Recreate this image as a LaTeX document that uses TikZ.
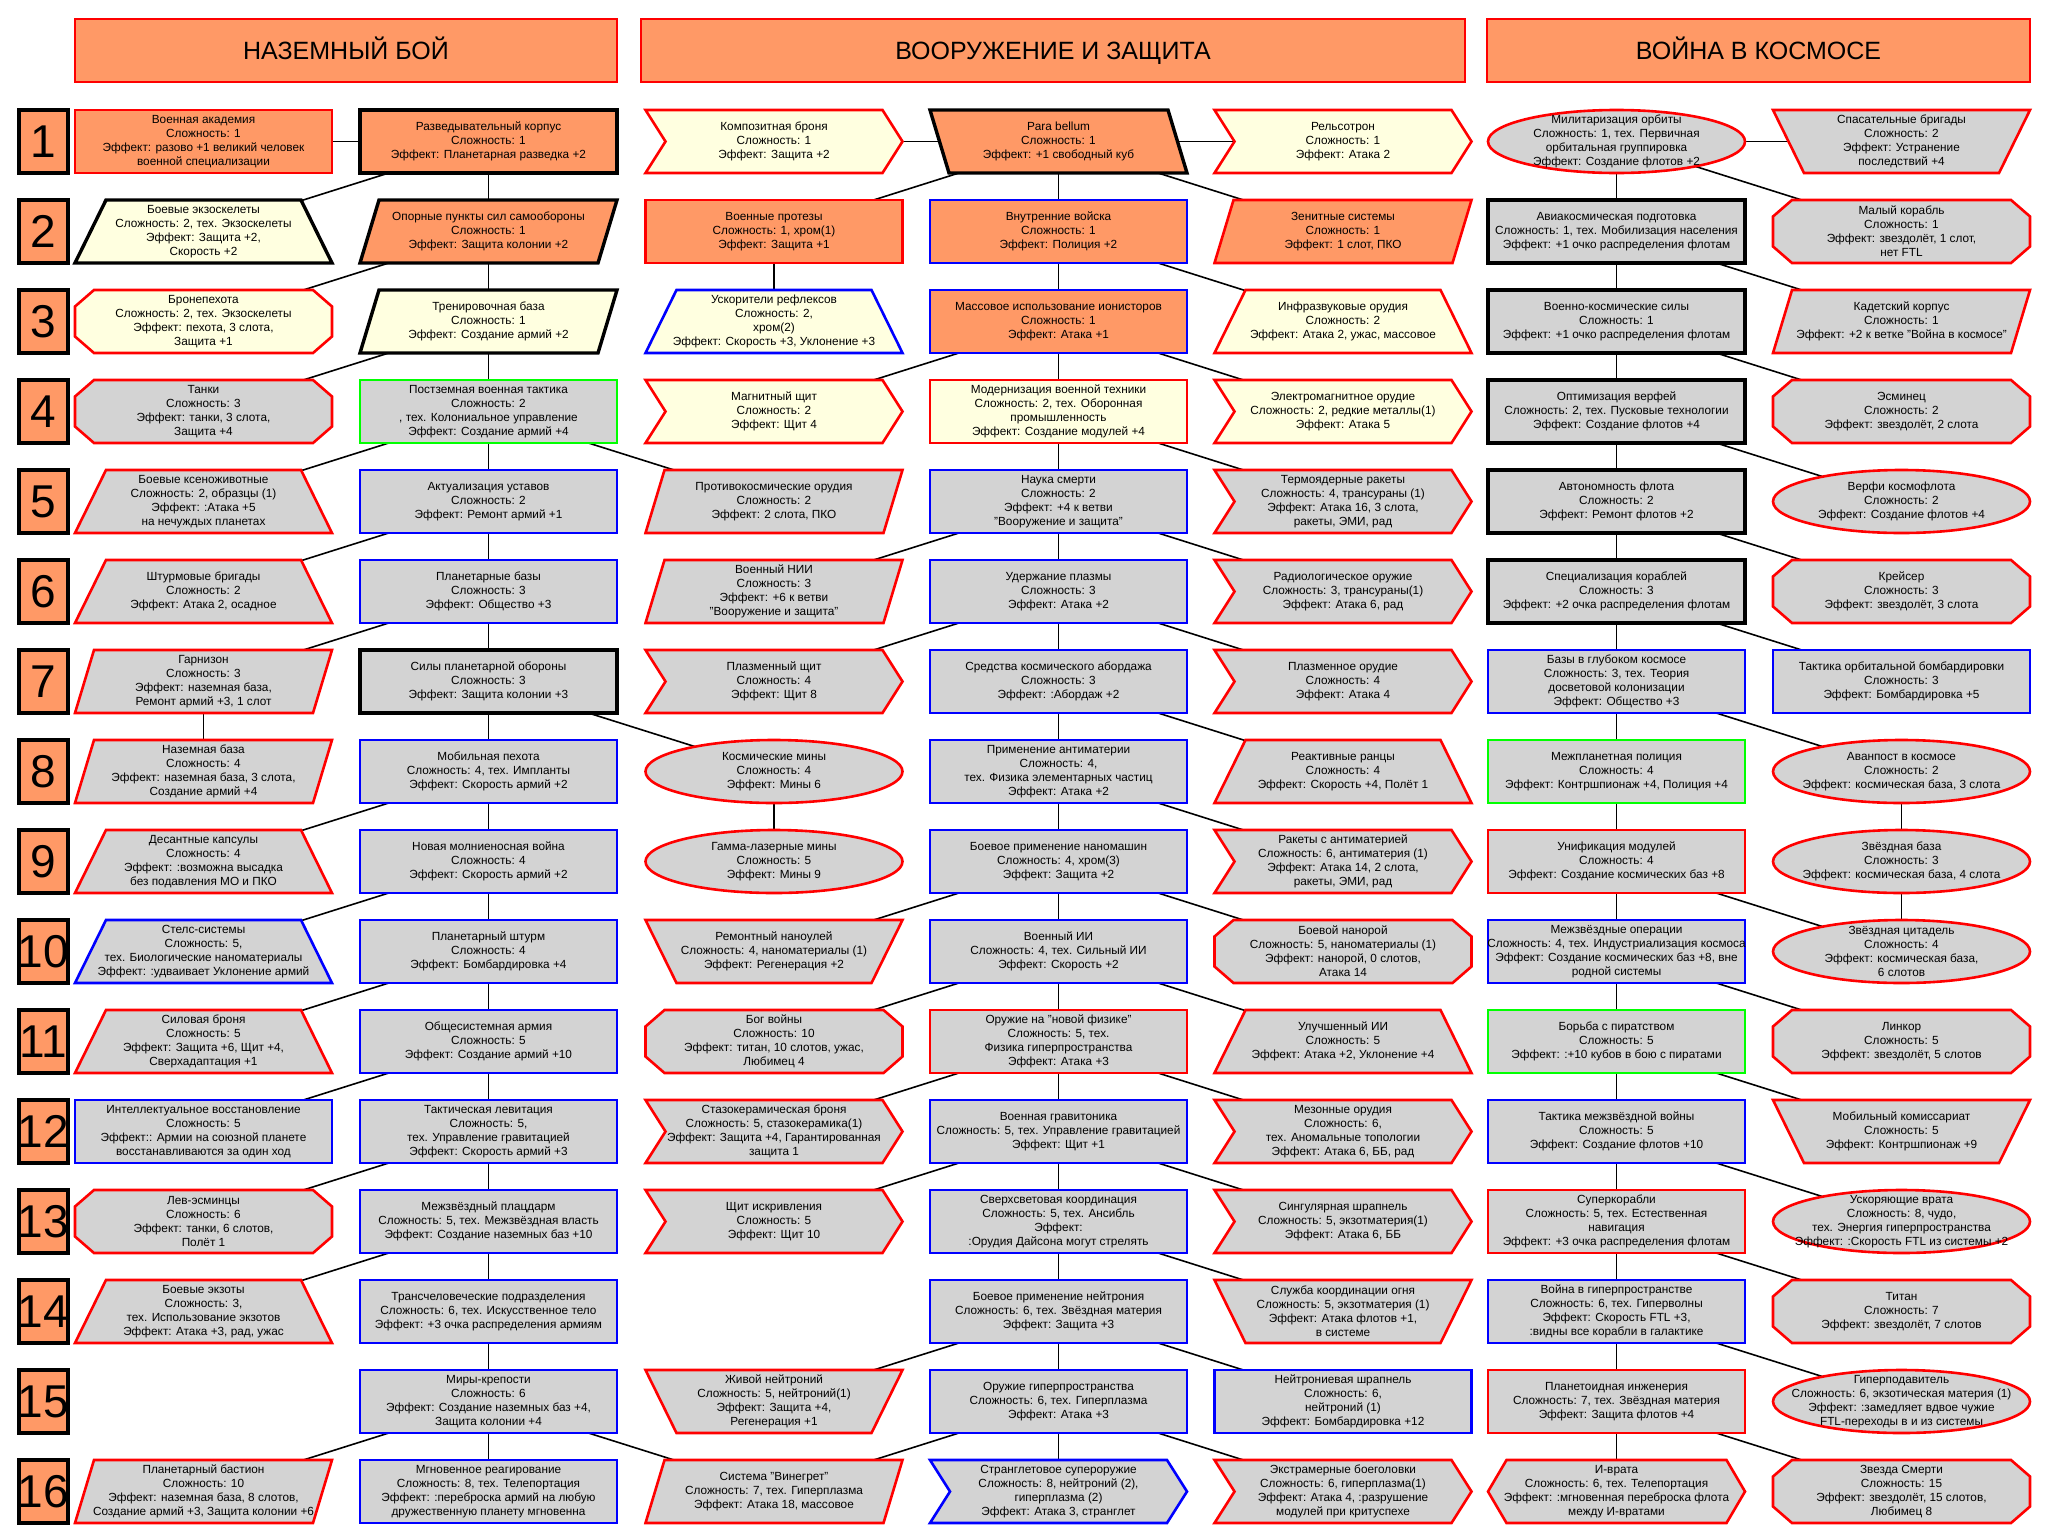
\documentclass[tikz,border=0pt]{standalone}
\usepackage{fontspec}
\setmainfont{Liberation Sans}
\usetikzlibrary{backgrounds}

\definecolor{orng}{HTML}{FF9966}
\definecolor{lyel}{HTML}{FFFFE0}
\definecolor{lgry}{HTML}{D3D3D3}
\definecolor{bred}{HTML}{FF0000}
\definecolor{bblu}{HTML}{0000FF}
\definecolor{bgrn}{HTML}{00FF00}

\tikzset{
  txt/.style={minimum width=257, minimum height=63, inner sep=0, align=center,
    font=\fontsize{11.8}{14}\selectfont},
  lnR/.style={draw=bred, line width=2.6},
  lnB/.style={draw=bblu, line width=2.6},
  lnG/.style={draw=bgrn, line width=2.6},
  lnK/.style={draw=black, line width=3.4},
  fO/.style={fill=orng}, fY/.style={fill=lyel}, fG/.style={fill=lgry},
  head/.style={draw=bred, line width=2.6, fill=orng, minimum height=63,
    text height=18, text depth=0, font=\fontsize{25}{30}\selectfont},
  rownum/.style={draw=black, line width=3.4, fill=orng, minimum width=49,
    minimum height=63, inner sep=0},
  numfont/.style={font=\fontsize{46}{46}\selectfont, inner sep=0},
  link/.style={line width=1.6}
}

% outlines, around (0,0)
\newcommand\shrect{(-128.5,-31.5) rectangle (128.5,31.5)}
\newcommand\shpara{(-109.5,-31.5) -- (128.5,-31.5) -- (109.5,31.5) -- (-128.5,31.5) -- cycle}
\newcommand\shparb{(-128.5,-31.5) -- (109.5,-31.5) -- (128.5,31.5) -- (-109.5,31.5) -- cycle}
\newcommand\shtrap{(-97.5,-31.5) -- (97.5,-31.5) -- (128.5,31.5) -- (-128.5,31.5) -- cycle}
\newcommand\shtrapi{(-128.5,-31.5) -- (128.5,-31.5) -- (97.5,31.5) -- (-97.5,31.5) -- cycle}
\newcommand\shchev{(-128.5,-31.5) -- (108.5,-31.5) -- (128.5,0) -- (108.5,31.5) -- (-128.5,31.5) -- (-108.5,0) -- cycle}
\newcommand\shcham{(-109.5,-31.5) -- (109.5,-31.5) -- (128.5,-15) -- (128.5,15) -- (109.5,31.5)
  -- (-109.5,31.5) -- (-128.5,15) -- (-128.5,-15) -- cycle}
\newcommand\shhexa{(-110,-31.5) -- (110,-31.5) -- (128.5,0) -- (110,31.5) -- (-110,31.5) -- (-128.5,0) -- cycle}
\newcommand\shellip{(0,0) ellipse [x radius=128.5, y radius=31.5]}

% name, column, row, outline, look, text
\newcommand\tech[6]{%
  \filldraw[#5, line join=miter, shift={(#2,51.5+90*#3)}] #4;
  \node[txt] (#1) at (#2,51.5+90*#3) {#6};}

\def\xA{203.5} \def\xB{488.5}
\def\xL{774} \def\xM{1058.5} \def\xR{1343}
\def\xS{1616.5} \def\xT{1901.5}

\begin{document}
\begin{tikzpicture}[x=1pt, y=-1pt]
\useasboundingbox (0,0) rectangle (2058,1537);

\node[head, minimum width=542] (hg) at (346,50.5) {НАЗЕМНЫЙ БОЙ};
\node[head, minimum width=824] (hw) at (1053,50.5) {ВООРУЖЕНИЕ И ЗАЩИТА};
\node[head, minimum width=543] (hs) at (1758.5,50.5) {ВОЙНА В КОСМОСЕ};

\foreach \r in {1,...,16}
  \node[rownum, label={[numfont]center:\r}] (r\r) at (43.5,51.5+90*\r) {};

% ground
\tech{ga1}{\xA}{1}{\shrect}{lnR,fO}{Военная академия\\Сложность: 1\\Эффект: разово +1 великий человек\\военной специализации}
\tech{gb1}{\xB}{1}{\shrect}{lnK,fO}{Разведывательный корпус\\Сложность: 1\\Эффект: Планетарная разведка +2}
\tech{ga2}{\xA}{2}{\shtrap}{lnK,fY}{Боевые экзоскелеты\\Сложность: 2, тех. Экзоскелеты\\Эффект: Защита +2,\\Скорость +2}
\tech{gb2}{\xB}{2}{\shpara}{lnK,fO}{Опорные пункты сил самообороны\\Сложность: 1\\Эффект: Защита колонии +2}
\tech{ga3}{\xA}{3}{\shcham}{lnR,fY}{Бронепехота\\Сложность: 2, тех. Экзоскелеты\\Эффект: пехота, 3 слота,\\Защита +1}
\tech{gb3}{\xB}{3}{\shpara}{lnK,fY}{Тренировочная база\\Сложность: 1\\Эффект: Создание армий +2}
\tech{ga4}{\xA}{4}{\shcham}{lnR,fG}{Танки\\Сложность: 3\\Эффект: танки, 3 слота,\\Защита +4}
\tech{gb4}{\xB}{4}{\shrect}{lnG,fG}{Постземная военная тактика\\Сложность: 2\\, тех. Колониальное управление\\Эффект: Создание армий +4}
\tech{ga5}{\xA}{5}{\shtrap}{lnR,fG}{Боевые ксеноживотные\\Сложность: 2, образцы (1)\\Эффект: :Атака +5\\на нечуждых планетах}
\tech{gb5}{\xB}{5}{\shrect}{lnB,fG}{Актуализация уставов\\Сложность: 2\\Эффект: Ремонт армий +1}
\tech{ga6}{\xA}{6}{\shtrap}{lnR,fG}{Штурмовые бригады\\Сложность: 2\\Эффект: Атака 2, осадное}
\tech{gb6}{\xB}{6}{\shrect}{lnB,fG}{Планетарные базы\\Сложность: 3\\Эффект: Общество +3}
\tech{ga7}{\xA}{7}{\shpara}{lnR,fG}{Гарнизон\\Сложность: 3\\Эффект: наземная база,\\Ремонт армий +3, 1 слот}
\tech{gb7}{\xB}{7}{\shrect}{lnK,fG}{Силы планетарной обороны\\Сложность: 3\\Эффект: Защита колонии +3}
\tech{ga8}{\xA}{8}{\shpara}{lnR,fG}{Наземная база\\Сложность: 4\\Эффект: наземная база, 3 слота,\\Создание армий +4}
\tech{gb8}{\xB}{8}{\shrect}{lnB,fG}{Мобильная пехота\\Сложность: 4, тех. Импланты\\Эффект: Скорость армий +2}
\tech{ga9}{\xA}{9}{\shtrap}{lnR,fG}{Десантные капсулы\\Сложность: 4\\Эффект: :возможна высадка\\без подавления МО и ПКО}
\tech{gb9}{\xB}{9}{\shrect}{lnB,fG}{Новая молниеносная война\\Сложность: 4\\Эффект: Скорость армий +2}
\tech{ga10}{\xA}{10}{\shtrap}{lnB,fG}{Стелс-системы\\Сложность: 5,\\тех. Биологические наноматериалы\\Эффект: :удваивает Уклонение армий}
\tech{gb10}{\xB}{10}{\shrect}{lnB,fG}{Планетарный штурм\\Сложность: 4\\Эффект: Бомбардировка +4}
\tech{ga11}{\xA}{11}{\shtrap}{lnR,fG}{Силовая броня\\Сложность: 5\\Эффект: Защита +6, Щит +4,\\Сверхадаптация +1}
\tech{gb11}{\xB}{11}{\shrect}{lnB,fG}{Общесистемная армия\\Сложность: 5\\Эффект: Создание армий +10}
\tech{ga12}{\xA}{12}{\shrect}{lnB,fG}{Интеллектуальное восстановление\\Сложность: 5\\Эффект:: Армии на союзной планете\\восстанавливаются за один ход}
\tech{gb12}{\xB}{12}{\shrect}{lnB,fG}{Тактическая левитация\\Сложность: 5,\\тех. Управление гравитацией\\Эффект: Скорость армий +3}
\tech{ga13}{\xA}{13}{\shcham}{lnR,fG}{Лев-эсминцы\\Сложность: 6\\Эффект: танки, 6 слотов,\\Полёт 1}
\tech{gb13}{\xB}{13}{\shrect}{lnB,fG}{Межзвёздный плацдарм\\Сложность: 5, тех. Межзвёздная власть\\Эффект: Создание наземных баз +10}
\tech{ga14}{\xA}{14}{\shtrap}{lnR,fG}{Боевые экзоты\\Сложность: 3,\\тех. Использование экзотов\\Эффект: Атака +3, рад, ужас}
\tech{gb14}{\xB}{14}{\shrect}{lnB,fG}{Трансчеловеческие подразделения\\Сложность: 6, тех. Искусственное тело\\Эффект: +3 очка распределения армиям}
\tech{gb15}{\xB}{15}{\shrect}{lnB,fG}{Миры-крепости\\Сложность: 6\\Эффект: Создание наземных баз +4,\\Защита колонии +4}
\tech{ga16}{\xA}{16}{\shpara}{lnR,fG}{Планетарный бастион\\Сложность: 10\\Эффект: наземная база, 8 слотов,\\Создание армий +3, Защита колонии +6}
\tech{gb16}{\xB}{16}{\shrect}{lnB,fG}{Мгновенное реагирование\\Сложность: 8, тех. Телепортация\\Эффект: :переброска армий на любую\\дружественную планету мгновенна}

% weapons
\tech{wl1}{\xL}{1}{\shchev}{lnR,fY}{Композитная броня\\Сложность: 1\\Эффект: Защита +2}
\tech{wm1}{\xM}{1}{\shparb}{lnK,fO}{Para bellum\\Сложность: 1\\Эффект: +1 свободный куб}
\tech{wr1}{\xR}{1}{\shchev}{lnR,fY}{Рельсотрон\\Сложность: 1\\Эффект: Атака 2}
\tech{wl2}{\xL}{2}{\shrect}{lnR,fO}{Военные протезы\\Сложность: 1, хром(1)\\Эффект: Защита +1}
\tech{wm2}{\xM}{2}{\shrect}{lnB,fO}{Внутренние войска\\Сложность: 1\\Эффект: Полиция +2}
\tech{wr2}{\xR}{2}{\shpara}{lnR,fO}{Зенитные системы\\Сложность: 1\\Эффект: 1 слот, ПКО}
\tech{wl3}{\xL}{3}{\shtrap}{lnB,fY}{Ускорители рефлексов\\Сложность: 2,\\хром(2)\\Эффект: Скорость +3, Уклонение +3}
\tech{wm3}{\xM}{3}{\shrect}{lnB,fO}{Массовое использование ионисторов\\Сложность: 1\\Эффект: Атака +1}
\tech{wr3}{\xR}{3}{\shtrap}{lnR,fY}{Инфразвуковые орудия\\Сложность: 2\\Эффект: Атака 2, ужас, массовое}
\tech{wl4}{\xL}{4}{\shchev}{lnR,fY}{Магнитный щит\\Сложность: 2\\Эффект: Щит 4}
\tech{wm4}{\xM}{4}{\shrect}{lnR,fY}{Модернизация военной техники\\Сложность: 2, тех. Оборонная\\промышленность\\Эффект: Создание модулей +4}
\tech{wr4}{\xR}{4}{\shchev}{lnR,fY}{Электромагнитное орудие\\Сложность: 2, редкие металлы(1)\\Эффект: Атака 5}
\tech{wl5}{\xL}{5}{\shpara}{lnR,fG}{Противокосмические орудия\\Сложность: 2\\Эффект: 2 слота, ПКО}
\tech{wm5}{\xM}{5}{\shrect}{lnB,fG}{Наука смерти\\Сложность: 2\\Эффект: +4 к ветви\\"Вооружение и защита"}
\tech{wr5}{\xR}{5}{\shchev}{lnR,fG}{Термоядерные ракеты\\Сложность: 4, трансураны (1)\\Эффект: Атака 16, 3 слота,\\ракеты, ЭМИ, рад}
\tech{wl6}{\xL}{6}{\shpara}{lnR,fG}{Военный НИИ\\Сложность: 3\\Эффект: +6 к ветви\\"Вооружение и защита"}
\tech{wm6}{\xM}{6}{\shrect}{lnB,fG}{Удержание плазмы\\Сложность: 3\\Эффект: Атака +2}
\tech{wr6}{\xR}{6}{\shchev}{lnR,fG}{Радиологическое оружие\\Сложность: 3, трансураны(1)\\Эффект: Атака 6, рад}
\tech{wl7}{\xL}{7}{\shchev}{lnR,fG}{Плазменный щит\\Сложность: 4\\Эффект: Щит 8}
\tech{wm7}{\xM}{7}{\shrect}{lnB,fG}{Средства космического абордажа\\Сложность: 3\\Эффект: :Абордаж +2}
\tech{wr7}{\xR}{7}{\shchev}{lnR,fG}{Плазменное орудие\\Сложность: 4\\Эффект: Атака 4}
\tech{wl8}{\xL}{8}{\shellip}{lnR,fG}{Космические мины\\Сложность: 4\\Эффект: Мины 6}
\tech{wm8}{\xM}{8}{\shrect}{lnB,fG}{Применение антиматерии\\Сложность: 4,\\тех. Физика элементарных частиц\\Эффект: Атака +2}
\tech{wr8}{\xR}{8}{\shtrap}{lnR,fG}{Реактивные ранцы\\Сложность: 4\\Эффект: Скорость +4, Полёт 1}
\tech{wl9}{\xL}{9}{\shellip}{lnR,fG}{Гамма-лазерные мины\\Сложность: 5\\Эффект: Мины 9}
\tech{wm9}{\xM}{9}{\shrect}{lnB,fG}{Боевое применение наномашин\\Сложность: 4, хром(3)\\Эффект: Защита +2}
\tech{wr9}{\xR}{9}{\shchev}{lnR,fG}{Ракеты с антиматерией\\Сложность: 6, антиматерия (1)\\Эффект: Атака 14, 2 слота,\\ракеты, ЭМИ, рад}
\tech{wl10}{\xL}{10}{\shtrapi}{lnR,fG}{Ремонтный наноулей\\Сложность: 4, наноматериалы (1)\\Эффект: Регенерация +2}
\tech{wm10}{\xM}{10}{\shrect}{lnB,fG}{Военный ИИ\\Сложность: 4, тех. Сильный ИИ\\Эффект: Скорость +2}
\tech{wr10}{\xR}{10}{\shcham}{lnR,fG}{Боевой нанорой\\Сложность: 5, наноматериалы (1)\\Эффект: нанорой, 0 слотов,\\Атака 14}
\tech{wl11}{\xL}{11}{\shcham}{lnR,fG}{Бог войны\\Сложность: 10\\Эффект: титан, 10 слотов, ужас,\\Любимец 4}
\tech{wm11}{\xM}{11}{\shrect}{lnR,fG}{Оружие на "новой физике"\\Сложность: 5, тех.\\Физика гиперпространства\\Эффект: Атака +3}
\tech{wr11}{\xR}{11}{\shtrap}{lnR,fG}{Улучшенный ИИ\\Сложность: 5\\Эффект: Атака +2, Уклонение +4}
\tech{wl12}{\xL}{12}{\shchev}{lnR,fG}{Стазокерамическая броня\\Сложность: 5, стазокерамика(1)\\Эффект: Защита +4, Гарантированная\\защита 1}
\tech{wm12}{\xM}{12}{\shrect}{lnB,fG}{Военная гравитоника\\Сложность: 5, тех. Управление гравитацией\\Эффект: Щит +1}
\tech{wr12}{\xR}{12}{\shchev}{lnR,fG}{Мезонные орудия\\Сложность: 6,\\тех. Аномальные топологии\\Эффект: Атака 6, ББ, рад}
\tech{wl13}{\xL}{13}{\shchev}{lnR,fG}{Щит искривления\\Сложность: 5\\Эффект: Щит 10}
\tech{wm13}{\xM}{13}{\shrect}{lnB,fG}{Сверхсветовая координация\\Сложность: 5, тех. Ансибль\\Эффект:\\:Орудия Дайсона могут стрелять}
\tech{wr13}{\xR}{13}{\shchev}{lnR,fG}{Сингулярная шрапнель\\Сложность: 5, экзотматерия(1)\\Эффект: Атака 6, ББ}
\tech{wm14}{\xM}{14}{\shrect}{lnB,fG}{Боевое применение нейтрония\\Сложность: 6, тех. Звёздная материя\\Эффект: Защита +3}
\tech{wr14}{\xR}{14}{\shtrapi}{lnR,fG}{Служба координации огня\\Сложность: 5, экзотматерия (1)\\Эффект: Атака флотов +1,\\в системе}
\tech{wl15}{\xL}{15}{\shtrapi}{lnR,fG}{Живой нейтроний\\Сложность: 5, нейтроний(1)\\Эффект: Защита +4,\\Регенерация +1}
\tech{wm15}{\xM}{15}{\shrect}{lnB,fG}{Оружие гиперпространства\\Сложность: 6, тех. Гиперплазма\\Эффект: Атака +3}
\tech{wr15}{\xR}{15}{\shrect}{lnB,fG}{Нейтрониевая шрапнель\\Сложность: 6,\\нейтроний (1)\\Эффект: Бомбардировка +12}
\tech{wl16}{\xL}{16}{\shpara}{lnR,fG}{Система "Винегрет"\\Сложность: 7, тех. Гиперплазма\\Эффект: Атака 18, массовое}
\tech{wm16}{\xM}{16}{\shchev}{lnB,fG}{Странглетовое супероружие\\Сложность: 8, нейтроний (2),\\гиперплазма (2)\\Эффект: Атака 3, странглет}
\tech{wr16}{\xR}{16}{\shchev}{lnR,fG}{Экстрамерные боеголовки\\Сложность: 6, гиперплазма(1)\\Эффект: Атака 4, :разрушение\\модулей при критуспехе}

% space
\tech{sl1}{\xS}{1}{\shellip}{lnR,fG}{Милитаризация орбиты\\Сложность: 1, тех. Первичная\\орбитальная группировка\\Эффект: Создание флотов +2}
\tech{sr1}{\xT}{1}{\shtrapi}{lnR,fG}{Спасательные бригады\\Сложность: 2\\Эффект: Устранение\\последствий +4}
\tech{sl2}{\xS}{2}{\shrect}{lnK,fG}{Авиакосмическая подготовка\\Сложность: 1, тех. Мобилизация населения\\Эффект: +1 очко распределения флотам}
\tech{sr2}{\xT}{2}{\shcham}{lnR,fG}{Малый корабль\\Сложность: 1\\Эффект: звездолёт, 1 слот,\\нет FTL}
\tech{sl3}{\xS}{3}{\shrect}{lnK,fG}{Военно-космические силы\\Сложность: 1\\Эффект: +1 очко распределения флотам}
\tech{sr3}{\xT}{3}{\shpara}{lnR,fG}{Кадетский корпус\\Сложность: 1\\Эффект: +2 к ветке "Война в космосе"}
\tech{sl4}{\xS}{4}{\shrect}{lnK,fG}{Оптимизация верфей\\Сложность: 2, тех. Пусковые технологии\\Эффект: Создание флотов +4}
\tech{sr4}{\xT}{4}{\shcham}{lnR,fG}{Эсминец\\Сложность: 2\\Эффект: звездолёт, 2 слота}
\tech{sl5}{\xS}{5}{\shrect}{lnK,fG}{Автономность флота\\Сложность: 2\\Эффект: Ремонт флотов +2}
\tech{sr5}{\xT}{5}{\shellip}{lnR,fG}{Верфи космофлота\\Сложность: 2\\Эффект: Создание флотов +4}
\tech{sl6}{\xS}{6}{\shrect}{lnK,fG}{Специализация кораблей\\Сложность: 3\\Эффект: +2 очка распределения флотам}
\tech{sr6}{\xT}{6}{\shcham}{lnR,fG}{Крейсер\\Сложность: 3\\Эффект: звездолёт, 3 слота}
\tech{sl7}{\xS}{7}{\shrect}{lnB,fG}{Базы в глубоком космосе\\Сложность: 3, тех. Теория\\досветовой колонизации\\Эффект: Общество +3}
\tech{sr7}{\xT}{7}{\shrect}{lnB,fG}{Тактика орбитальной бомбардировки\\Сложность: 3\\Эффект: Бомбардировка +5}
\tech{sl8}{\xS}{8}{\shrect}{lnG,fG}{Межпланетная полиция\\Сложность: 4\\Эффект: Контршпионаж +4, Полиция +4}
\tech{sr8}{\xT}{8}{\shellip}{lnR,fG}{Аванпост в космосе\\Сложность: 2\\Эффект: космическая база, 3 слота}
\tech{sl9}{\xS}{9}{\shrect}{lnR,fG}{Унификация модулей\\Сложность: 4\\Эффект: Создание космических баз +8}
\tech{sr9}{\xT}{9}{\shellip}{lnR,fG}{Звёздная база\\Сложность: 3\\Эффект: космическая база, 4 слота}
\tech{sl10}{\xS}{10}{\shrect}{lnB,fG}{Межзвёздные операции\\Сложность: 4, тех. Индустриализация космоса\\Эффект: Создание космических баз +8, вне\\родной системы}
\tech{sr10}{\xT}{10}{\shellip}{lnR,fG}{Звёздная цитадель\\Сложность: 4\\Эффект: космическая база,\\6 слотов}
\tech{sl11}{\xS}{11}{\shrect}{lnG,fG}{Борьба с пиратством\\Сложность: 5\\Эффект: :+10 кубов в бою с пиратами}
\tech{sr11}{\xT}{11}{\shcham}{lnR,fG}{Линкор\\Сложность: 5\\Эффект: звездолёт, 5 слотов}
\tech{sl12}{\xS}{12}{\shrect}{lnB,fG}{Тактика межзвёздной войны\\Сложность: 5\\Эффект: Создание флотов +10}
\tech{sr12}{\xT}{12}{\shtrapi}{lnR,fG}{Мобильный комиссариат\\Сложность: 5\\Эффект: Контршпионаж +9}
\tech{sl13}{\xS}{13}{\shrect}{lnR,fG}{Суперкорабли\\Сложность: 5, тех. Естественная\\навигация\\Эффект: +3 очка распределения флотам}
\tech{sr13}{\xT}{13}{\shellip}{lnR,fG}{Ускоряющие врата\\Сложность: 8, чудо,\\тех. Энергия гиперпространства\\Эффект: :Скорость FTL из системы +2}
\tech{sl14}{\xS}{14}{\shrect}{lnB,fG}{Война в гиперпространстве\\Сложность: 6, тех. Гиперволны\\Эффект: Скорость FTL +3,\\:видны все корабли в галактике}
\tech{sr14}{\xT}{14}{\shcham}{lnR,fG}{Титан\\Сложность: 7\\Эффект: звездолёт, 7 слотов}
\tech{sl15}{\xS}{15}{\shrect}{lnR,fG}{Планетоидная инженерия\\Сложность: 7, тех. Звёздная материя\\Эффект: Защита флотов +4}
\tech{sr15}{\xT}{15}{\shellip}{lnR,fG}{Гиперподавитель\\Сложность: 6, экзотическая материя (1)\\Эффект: :замедляет вдвое чужие\\FTL-переходы в и из системы}
\tech{sl16}{\xS}{16}{\shhexa}{lnR,fG}{И-врата\\Сложность: 6, тех. Телепортация\\Эффект: :мгновенная переброска флота\\между И-вратами}
\tech{sr16}{\xT}{16}{\shcham}{lnR,fG}{Звезда Смерти\\Сложность: 15\\Эффект: звездолёт, 15 слотов,\\Любимец 8}

\begin{scope}[on background layer]
  \fill[white] (0,0) rectangle (2058,1537);
  \foreach \a/\b in {ga1/gb1, gb1/ga2, gb1/gb2, gb2/ga3, gb2/gb3, gb3/ga4, gb3/gb4,
      gb4/ga5, gb4/gb5, gb4/wl5, gb5/ga6, gb5/gb6, gb6/ga7, gb6/gb7, ga7/ga8,
      gb7/gb8, gb7/wl8, gb8/ga9, gb8/gb9, gb9/ga10, gb9/gb10, gb10/ga11, gb10/gb11,
      gb11/ga12, gb11/gb12, gb12/ga13, gb12/gb13, gb13/ga14, gb13/gb14, gb14/gb15,
      gb15/ga16, gb15/gb16, gb15/wl16}
    \draw[link] (\a.center) -- (\b.center);
  \foreach \a/\b in {wl1/wm1, wm1/wr1, wm1/wl2, wm1/wm2, wm1/wr2, wl2/wl3, wm2/wm3,
      wm2/wr3, wm3/wl4, wm3/wm4, wm3/wr4, wm4/wm5, wm4/wr5, wm5/wl6, wm5/wm6, wm5/wr6,
      wm6/wl7, wm6/wm7, wm6/wr7, wm7/wm8, wm7/wr8, wl8/wl9, wm8/wm9, wm8/wr9,
      wm9/wl10, wm9/wm10, wm9/wr10, wm10/wl11, wm10/wm11, wm10/wr11, wm11/wl12,
      wm11/wm12, wm11/wr12, wm12/wl13, wm12/wm13, wm12/wr13, wm13/wm14, wm13/wr14,
      wm14/wl15, wm14/wm15, wm14/wr15, wm15/wl16, wm15/wm16, wm15/wr16}
    \draw[link] (\a.center) -- (\b.center);
  \foreach \a/\b in {sl1/sr1, sl1/sl2, sl1/sr2, sl2/sl3, sl2/sr3, sl3/sl4, sl3/sr4,
      sl4/sl5, sl4/sr5, sl5/sl6, sl5/sr6, sl6/sl7, sl6/sr7, sl7/sl8, sl7/sr8,
      sl8/sl9, sr8/sr9, sl9/sl10, sl9/sr10, sr9/sr10, sl10/sl11, sl10/sr11,
      sl11/sl12, sl11/sr12, sl12/sl13, sl12/sr13, sl13/sl14, sl13/sr14,
      sl14/sl15, sl14/sr15, sl15/sl16, sl15/sr16}
    \draw[link] (\a.center) -- (\b.center);
\end{scope}
\end{tikzpicture}
\end{document}
